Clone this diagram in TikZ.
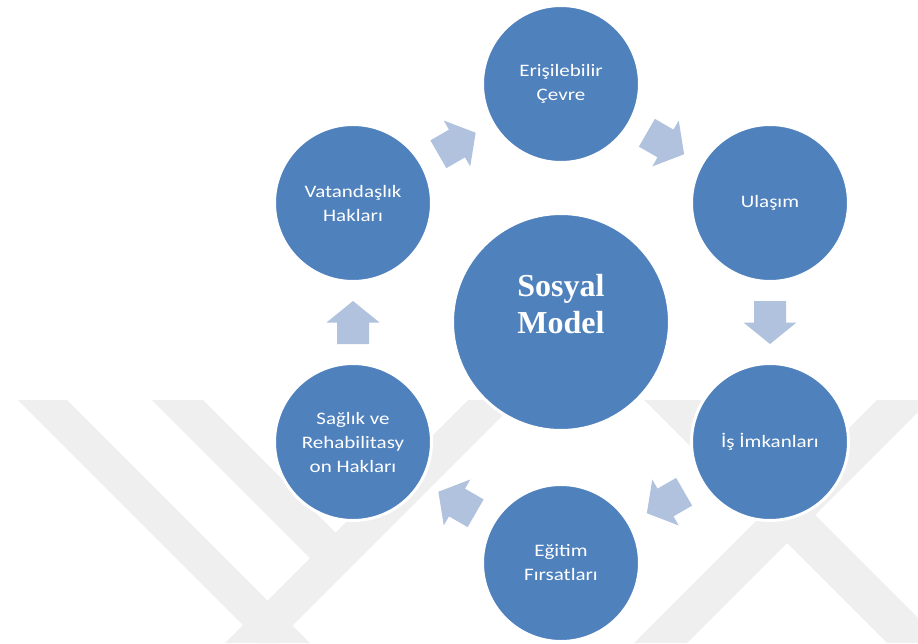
\documentclass[tikz,border=0pt]{standalone}
\usepackage{fontspec}
\setmainfont{Carlito}[FakeStretch=1.2]
\newfontfamily\serifmodel{Liberation Serif}
\usetikzlibrary{calc}
\definecolor{circblue}{HTML}{4F81BD}
\definecolor{arrblue}{HTML}{B0C2DE}
\definecolor{wmgray}{HTML}{EFEFEF}
\begin{document}
\begin{tikzpicture}[x=1pt,y=-1pt,
  circ/.style={circle, fill=circblue, draw=white, line width=3pt, minimum size=157pt, inner sep=0pt,
    text=white, font=\fontsize{17.5}{24}\selectfont, align=center},
  bigcirc/.style={circ, minimum size=217pt},
  modeltext/.style={text=white, font=\serifmodel\bfseries\fontsize{32}{37}\selectfont, align=center, inner sep=0pt},
  wm/.style={fill=wmgray},
  barrow/.pic={\fill[arrblue] (-21.5,-16) -- (0,-16) -- (0,-26.5) -- (21.5,0) -- (0,26.5) -- (0,16) -- (-21.5,16) -- cycle;}
]
\path[use as bounding box] (0,0) rectangle (918,643);
\fill[white] (0,0) rectangle (918,643);
% watermark
\begin{scope}
\clip (0,0) rectangle (918,643);
\fill[wm] (18,400) -- (67,400) -- (310,643) -- (261,643) -- cycle;
\fill[wm] (152,400) -- (203,400) -- (348,545) -- (322.5,570.5) -- cycle;
\fill[wm] (468,400) -- (518,400) -- (275,643) -- (225,643) -- cycle;
\fill[wm] (877,400) -- (930,400) -- (687,643) -- (634,643) -- cycle;
\fill[wm] (644,400) -- (700,400) -- (943,643) -- (887,643) -- cycle;
\end{scope}
% circles
\node[bigcirc] (center) at (561,322) {};
\node[modeltext] (centertext) at (561,304) {Sosyal\\Model};
\node[circ] (c1) at (561,84) {Erişilebilir\\Çevre};
\node[circ] (c2) at (770,203) {Ulaşım};
\node[circ] (c3) at (770,442) {İş İmkanları};
\node[circ] (c4) at (561,563) {Eğitim\\Fırsatları};
\node[circ] (c5) at (353,442) {Sağlık ve\\Rehabilitasy\\on Hakları};
\node[circ] (c6) at (353,203) {Vatandaşlık\\Hakları};
% arrows
\pic[rotate=-30] at ($(c1)!0.5!(c2)$) {barrow};
\pic[rotate=-90] at ($(c2)!0.5!(c3)$) {barrow};
\pic[rotate=-150] at ($(c3)!0.5!(c4)$) {barrow};
\pic[rotate=150] at ($(c4)!0.5!(c5)$) {barrow};
\pic[rotate=90] at ($(c5)!0.5!(c6)$) {barrow};
\pic[rotate=30] at ($(c6)!0.5!(c1)$) {barrow};
\end{tikzpicture}
\end{document}
